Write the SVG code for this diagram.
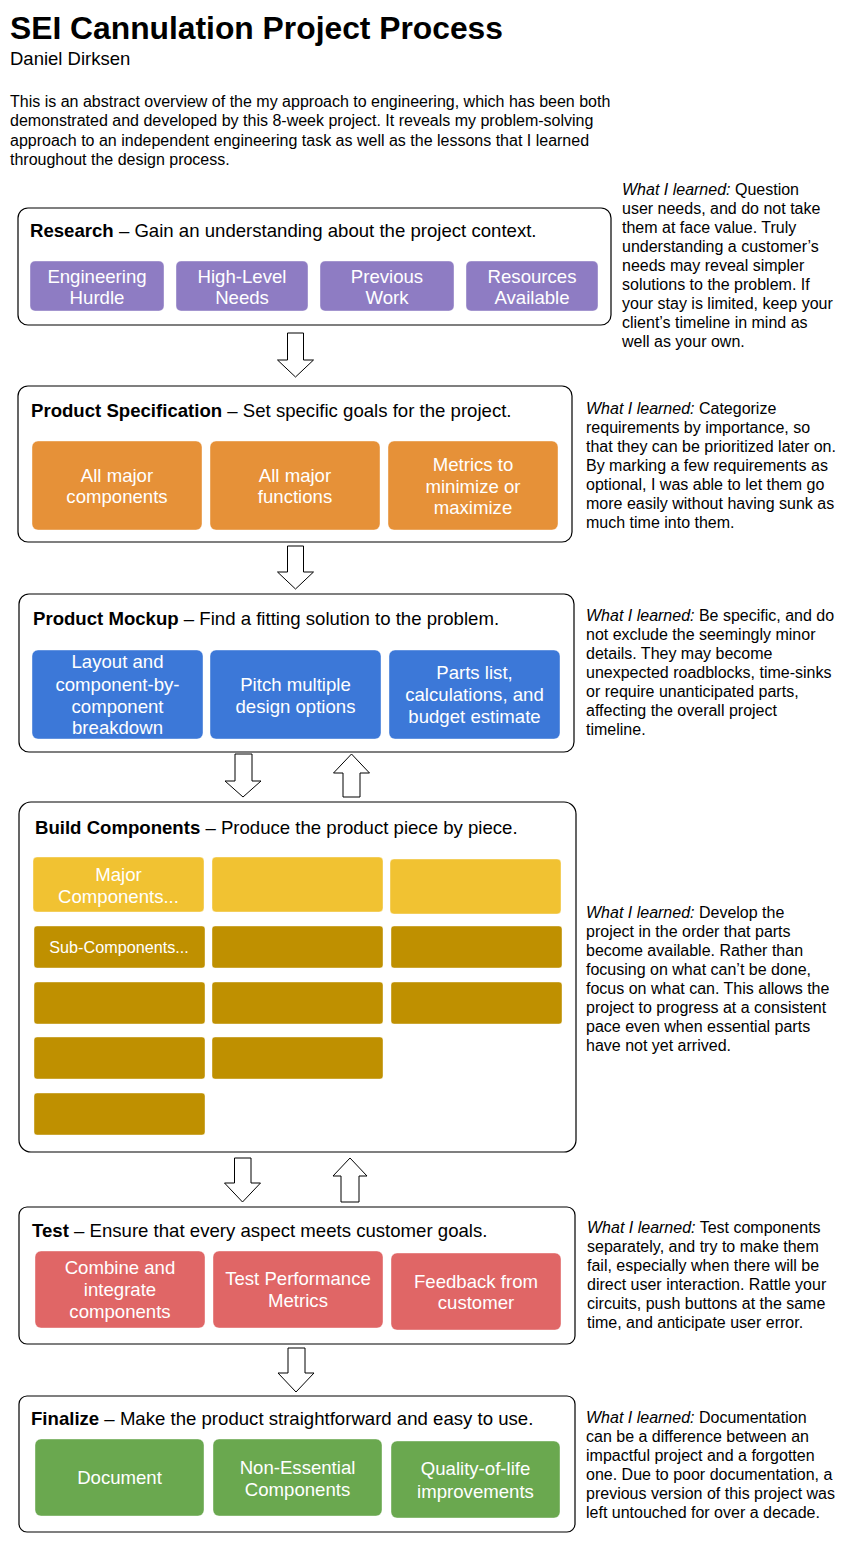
<svg xmlns="http://www.w3.org/2000/svg" width="865" height="1558" viewBox="0 0 865 1558">
<style>
text{font-family:"Liberation Sans",Arial,sans-serif;fill:#000}
.title{font-size:31.8px;font-weight:bold}
.sub{font-size:18.5px}
.para{font-size:16px}
.hdr{font-size:18.6px}
.hdr .b{font-weight:bold}
.note{font-size:16px}
.note .i{font-style:italic}
.frame{fill:#fff;stroke:#000;stroke-width:1.2}
.in{stroke:#fff;stroke-opacity:0.4;stroke-width:1}
.lbl{font-size:18.6px;fill:#fff;text-anchor:middle}
.lbls{font-size:16.2px;fill:#fff;text-anchor:middle}
.pur{fill:#8e7cc3}.org{fill:#e69138}.blu{fill:#3c78d8}.yel{fill:#f1c232}.gld{fill:#bf9000}.red{fill:#e06666}.grn{fill:#6aa84f}
.arr{fill:#fff;stroke:#000;stroke-width:1}
</style>
<rect width="865" height="1558" fill="#fff"/>
<g id="header">
<text class="title" x="10" y="39">SEI Cannulation Project Process</text>
<text class="sub" x="10" y="65">Daniel Dirksen</text>
<text class="para" x="10" y="107">This is an abstract overview of the my approach to engineering, which has been both</text>
<text class="para" x="10" y="126">demonstrated and developed by this 8-week project. It reveals my problem-solving</text>
<text class="para" x="10" y="146">approach to an independent engineering task as well as the lessons that I learned</text>
<text class="para" x="10" y="165">throughout the design process.</text>
</g>
<g id="connectors">
<polygon class="arr" points="287.5,333 303.5,333 303.5,360 313.5,360 295.5,377 277.5,360 287.5,360"/>
<polygon class="arr" points="287.5,546 303.5,546 303.5,572 313.5,572 295.5,589 277.5,572 287.5,572"/>
<polygon class="arr" points="235,754 252,754 252,781 261,781 243,797 225,781 235,781"/>
<polygon class="arr" points="351.5,754 369.5,773 360,773 360,797 343,797 343,773 333.5,773"/>
<polygon class="arr" points="234.5,1158 251,1158 251,1183 260.5,1183 242.5,1202 224.5,1183 234.5,1183"/>
<polygon class="arr" points="350,1158 367,1176 359,1176 359,1202 341,1202 341,1176 333,1176"/>
<polygon class="arr" points="288,1348 305,1348 305,1373 314,1373 296,1392 278,1373 288,1373"/>
</g>
<g id="research">
<rect class="frame" x="18" y="208" width="593" height="117" rx="10"/>
<text class="hdr" x="30" y="237"><tspan class="b">Research</tspan> – Gain an understanding about the project context.</text>
<rect class="pur in" x="30" y="261" width="134" height="50" rx="5"/>
<rect class="pur in" x="176" y="261" width="132" height="50" rx="5"/>
<rect class="pur in" x="320" y="261" width="134" height="50" rx="5"/>
<rect class="pur in" x="466" y="261" width="132" height="50" rx="5"/>
<text class="lbl" x="97" y="283">Engineering</text><text class="lbl" x="97" y="304">Hurdle</text>
<text class="lbl" x="242" y="283">High-Level</text><text class="lbl" x="242" y="304">Needs</text>
<text class="lbl" x="387" y="283">Previous</text><text class="lbl" x="387" y="304">Work</text>
<text class="lbl" x="532" y="283">Resources</text><text class="lbl" x="532" y="304">Available</text>
</g>
<g id="research-note">
<text class="note" x="622" y="195"><tspan class="i">What I learned:</tspan> Question</text>
<text class="note" x="622" y="214">user needs, and do not take</text>
<text class="note" x="622" y="233">them at face value. Truly</text>
<text class="note" x="622" y="252">understanding a customer’s</text>
<text class="note" x="622" y="271">needs may reveal simpler</text>
<text class="note" x="622" y="290">solutions to the problem. If</text>
<text class="note" x="622" y="309">your stay is limited, keep your</text>
<text class="note" x="622" y="328">client’s timeline in mind as</text>
<text class="note" x="622" y="347">well as your own.</text>
</g>
<g id="specification">
<rect class="frame" x="18" y="386" width="554" height="156" rx="10"/>
<text class="hdr" x="31" y="417"><tspan class="b">Product Specification</tspan> – Set specific goals for the project.</text>
<rect class="org in" x="32" y="441" width="170" height="89" rx="6"/>
<rect class="org in" x="210" y="441" width="170" height="89" rx="6"/>
<rect class="org in" x="388" y="441" width="170" height="89" rx="6"/>
<text class="lbl" x="117" y="482">All major</text><text class="lbl" x="117" y="503">components</text>
<text class="lbl" x="295" y="482">All major</text><text class="lbl" x="295" y="503">functions</text>
<text class="lbl" x="473" y="471">Metrics to</text><text class="lbl" x="473" y="493">minimize or</text><text class="lbl" x="473" y="514">maximize</text>
</g>
<g id="specification-note">
<text class="note" x="586" y="414"><tspan class="i">What I learned:</tspan> Categorize</text>
<text class="note" x="586" y="433">requirements by importance, so</text>
<text class="note" x="586" y="452">that they can be prioritized later on.</text>
<text class="note" x="586" y="471">By marking a few requirements as</text>
<text class="note" x="586" y="490">optional, I was able to let them go</text>
<text class="note" x="586" y="509">more easily without having sunk as</text>
<text class="note" x="586" y="528">much time into them.</text>
</g>
<g id="mockup">
<rect class="frame" x="19" y="594" width="555" height="158" rx="10"/>
<text class="hdr" x="33" y="625"><tspan class="b">Product Mockup</tspan> – Find a fitting solution to the problem.</text>
<rect class="blu in" x="32" y="650" width="171" height="89" rx="6"/>
<rect class="blu in" x="210" y="650" width="171" height="89" rx="6"/>
<rect class="blu in" x="389" y="650" width="171" height="89" rx="6"/>
<text class="lbl" x="117.5" y="668">Layout and</text><text class="lbl" x="117.5" y="691">component-by-</text><text class="lbl" x="117.5" y="713">component</text><text class="lbl" x="117.5" y="734">breakdown</text>
<text class="lbl" x="295.5" y="691">Pitch multiple</text><text class="lbl" x="295.5" y="713">design options</text>
<text class="lbl" x="474.5" y="679">Parts list,</text><text class="lbl" x="474.5" y="701">calculations, and</text><text class="lbl" x="474.5" y="723">budget estimate</text>
</g>
<g id="mockup-note">
<text class="note" x="586" y="621"><tspan class="i">What I learned:</tspan> Be specific, and do</text>
<text class="note" x="586" y="640">not exclude the seemingly minor</text>
<text class="note" x="586" y="659">details. They may become</text>
<text class="note" x="586" y="678">unexpected roadblocks, time-sinks</text>
<text class="note" x="586" y="697">or require unanticipated parts,</text>
<text class="note" x="586" y="716">affecting the overall project</text>
<text class="note" x="586" y="735">timeline.</text>
</g>
<g id="build">
<rect class="frame" x="19" y="802" width="557" height="350" rx="12"/>
<text class="hdr" x="35" y="834"><tspan class="b">Build Components</tspan> – Produce the product piece by piece.</text>
<rect class="yel in" x="33" y="857" width="171" height="55" rx="4"/>
<rect class="yel in" x="212" y="857" width="171" height="55" rx="4"/>
<rect class="yel in" x="390" y="859" width="171" height="55" rx="4"/>
<rect class="gld in" x="34" y="926" width="171" height="42" rx="3"/>
<rect class="gld in" x="212" y="926" width="171" height="42" rx="3"/>
<rect class="gld in" x="391" y="926" width="171" height="42" rx="3"/>
<rect class="gld in" x="34" y="982" width="171" height="42" rx="3"/>
<rect class="gld in" x="212" y="982" width="171" height="42" rx="3"/>
<rect class="gld in" x="391" y="982" width="171" height="42" rx="3"/>
<rect class="gld in" x="34" y="1037" width="171" height="42" rx="3"/>
<rect class="gld in" x="212" y="1037" width="171" height="42" rx="3"/>
<rect class="gld in" x="34" y="1093" width="171" height="42" rx="3"/>
<text class="lbl" x="118.5" y="881">Major</text><text class="lbl" x="118.5" y="903">Components...</text>
<text class="lbls" x="119" y="953">Sub-Components...</text>
</g>
<g id="build-note">
<text class="note" x="586" y="918"><tspan class="i">What I learned:</tspan> Develop the</text>
<text class="note" x="586" y="937">project in the order that parts</text>
<text class="note" x="586" y="956">become available. Rather than</text>
<text class="note" x="586" y="975">focusing on what can’t be done,</text>
<text class="note" x="586" y="994">focus on what can. This allows the</text>
<text class="note" x="586" y="1013">project to progress at a consistent</text>
<text class="note" x="586" y="1032">pace even when essential parts</text>
<text class="note" x="586" y="1051">have not yet arrived.</text>
</g>
<g id="test">
<rect class="frame" x="19" y="1207" width="556" height="137" rx="8"/>
<text class="hdr" x="32" y="1237"><tspan class="b">Test</tspan> – Ensure that every aspect meets customer goals.</text>
<rect class="red in" x="35" y="1251" width="170" height="77" rx="6"/>
<rect class="red in" x="213" y="1251" width="170" height="77" rx="6"/>
<rect class="red in" x="391" y="1253" width="170" height="77" rx="6"/>
<text class="lbl" x="120" y="1274">Combine and</text><text class="lbl" x="120" y="1296">integrate</text><text class="lbl" x="120" y="1318">components</text>
<text class="lbl" x="298" y="1285">Test Performance</text><text class="lbl" x="298" y="1307">Metrics</text>
<text class="lbl" x="476" y="1288">Feedback from</text><text class="lbl" x="476" y="1309">customer</text>
</g>
<g id="test-note">
<text class="note" x="587" y="1233"><tspan class="i">What I learned:</tspan> Test components</text>
<text class="note" x="587" y="1252">separately, and try to make them</text>
<text class="note" x="587" y="1271">fail, especially when there will be</text>
<text class="note" x="587" y="1290">direct user interaction. Rattle your</text>
<text class="note" x="587" y="1309">circuits, push buttons at the same</text>
<text class="note" x="587" y="1328">time, and anticipate user error.</text>
</g>
<g id="finalize">
<rect class="frame" x="19" y="1396" width="556" height="136" rx="8"/>
<text class="hdr" x="31" y="1425"><tspan class="b">Finalize</tspan> – Make the product straightforward and easy to use.</text>
<rect class="grn in" x="35" y="1439" width="169" height="77" rx="6"/>
<rect class="grn in" x="213" y="1439" width="169" height="77" rx="6"/>
<rect class="grn in" x="391" y="1441" width="169" height="77" rx="6"/>
<text class="lbl" x="119.5" y="1484">Document</text>
<text class="lbl" x="297.5" y="1474">Non-Essential</text><text class="lbl" x="297.5" y="1496">Components</text>
<text class="lbl" x="475.5" y="1475">Quality-of-life</text><text class="lbl" x="475.5" y="1498">improvements</text>
</g>
<g id="finalize-note">
<text class="note" x="586" y="1423"><tspan class="i">What I learned:</tspan> Documentation</text>
<text class="note" x="586" y="1442">can be a difference between an</text>
<text class="note" x="586" y="1461">impactful project and a forgotten</text>
<text class="note" x="586" y="1480">one. Due to poor documentation, a</text>
<text class="note" x="586" y="1499">previous version of this project was</text>
<text class="note" x="586" y="1518">left untouched for over a decade.</text>
</g>
</svg>
